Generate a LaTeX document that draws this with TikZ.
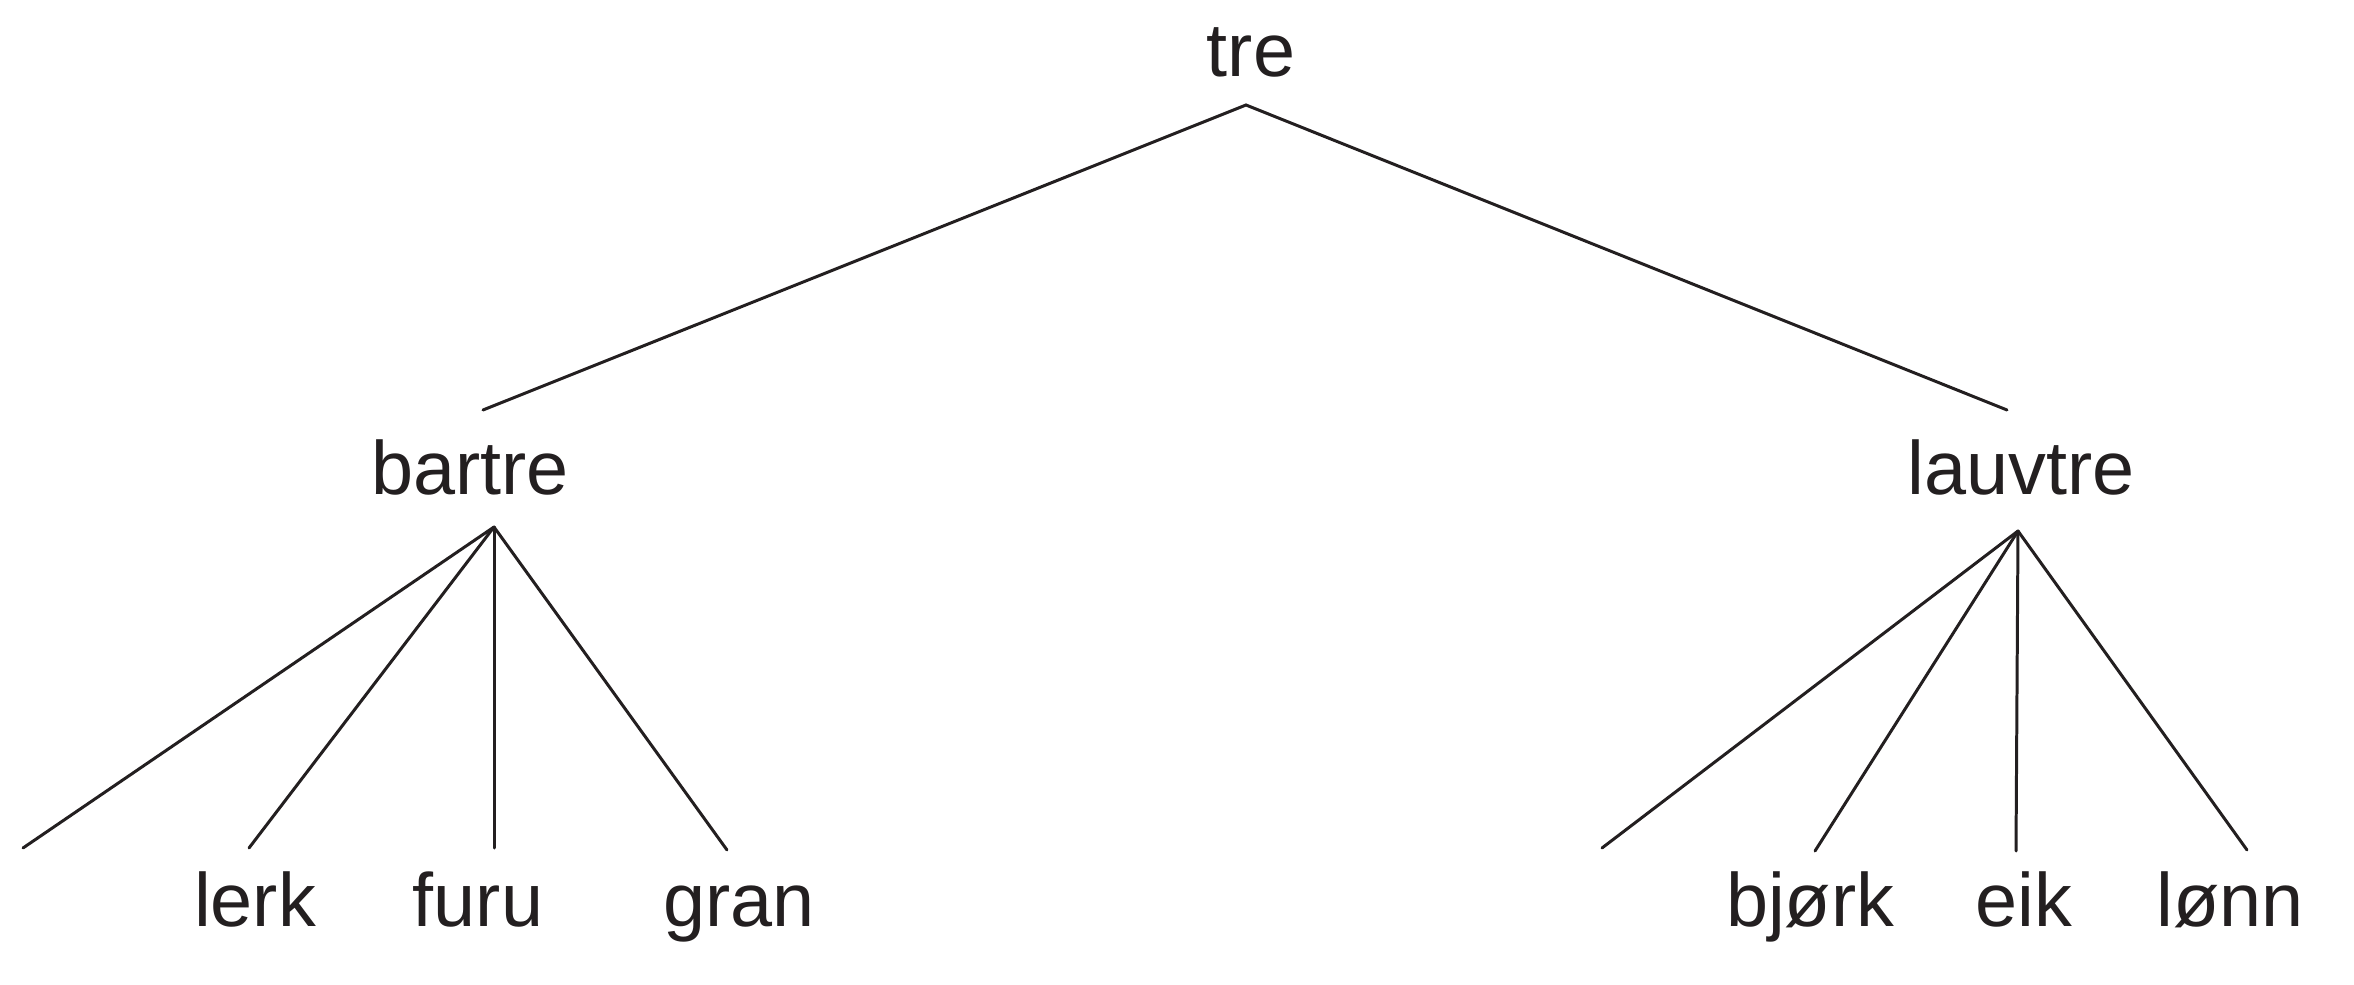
\documentclass[tikz,border=0pt]{standalone}
\usepackage{fontspec}
\setmainfont{Liberation Sans}
\usepackage{xcolor}
\usepackage{tikz}
\definecolor{TreeInk}{RGB}{35,31,32}

\begin{document}
\begin{tikzpicture}[x=0.01cm, y=-0.01cm,
          word/.style={anchor=base, inner sep=0pt, text=TreeInk,
                       font=\fontsize{21.5}{24}\selectfont},
          branch/.style={draw=TreeInk, line width=0.85pt, line cap=round}
        ]
        \useasboundingbox (0,0) rectangle (2354,985);

        \node[word] (tre) at (1251, 77) {tre};
        \node[word] (bar) at (470, 494) {bartre};
        \node[word] (lauv) at (2021, 494) {lauvtre};

        \node[word] (lerk) at (255, 926) {lerk};
        \node[word] (furu) at (478, 926) {furu};
        \node[word] (gran) at (739, 926) {gran};
        \node[word] (bjork) at (1810, 926) {bjørk};
        \node[word] (eik) at (2024, 926) {eik};
        \node[word] (lonn) at (2230, 926) {lønn};

        % joints and line ends
        \coordinate (treTop) at (1246, 105);
        \coordinate (barEnd) at (483, 410);
        \coordinate (lauvEnd) at (2007, 410);
        \coordinate (barTop) at (494, 527);
        \coordinate (lauvTop) at (2018, 531);
        \coordinate (bar1) at (23, 848);
        \coordinate (bar2) at (249, 848);
        \coordinate (bar3) at (494, 848);
        \coordinate (bar4) at (727, 850);
        \coordinate (lauv1) at (1602, 848);
        \coordinate (lauv2) at (1815, 851);
        \coordinate (lauv3) at (2016, 851);
        \coordinate (lauv4) at (2247, 850);

        \draw[branch] (barEnd) -- (treTop) -- (lauvEnd);
        \foreach \n in {1,...,4} {
          \draw[branch] (barTop) -- (bar\n);
          \draw[branch] (lauvTop) -- (lauv\n);
        }
      \end{tikzpicture}
\end{document}
